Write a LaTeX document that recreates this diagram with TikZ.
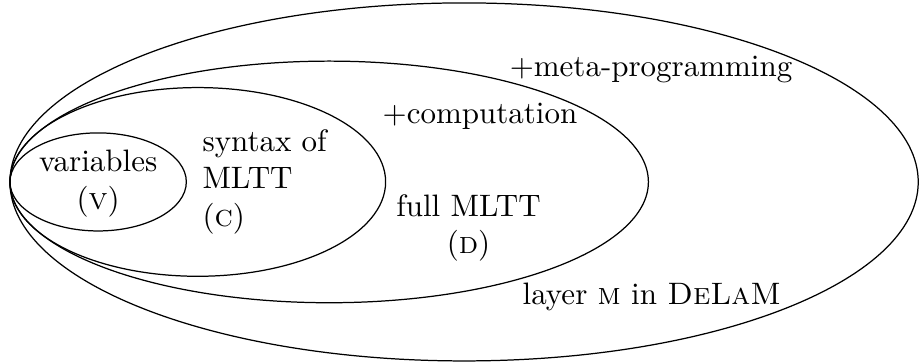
\documentclass[tikz,border=0pt]{standalone}
\usepackage{tikz}

\begin{document}
\begin{tikzpicture}
            % the frame
            \path[use as bounding box] (-0.113, -2.063) rectangle (10.32, 2.063);

            % the layers, all touching at the origin
            \foreach \rx/\ry in {1.00/0.556, 2.13/1.07, 3.62/1.37, 5.15/2.03} {
                \draw (\rx, 0) ellipse ({\rx} and {\ry});
            };

            % labels
            \node[align=center] (vars) at (1.0, -0.02) {variables\\(\textsc{v})};
            \node[align=left, anchor=west] (syntax) at (2.06, 0.0) {syntax of\\MLTT\\(\textsc{c})};
            \node (comp) at (5.33, 0.74) {+computation};
            \node[align=center] (full) at (5.2, -0.52) {full MLTT\\(\textsc{d})};
            \node (meta) at (7.27, 1.27) {+meta-programming};
            \node (layer) at (7.28, -1.30) {layer \textsc{m} in \textsc{DeLaM}};

\end{tikzpicture}
\end{document}
